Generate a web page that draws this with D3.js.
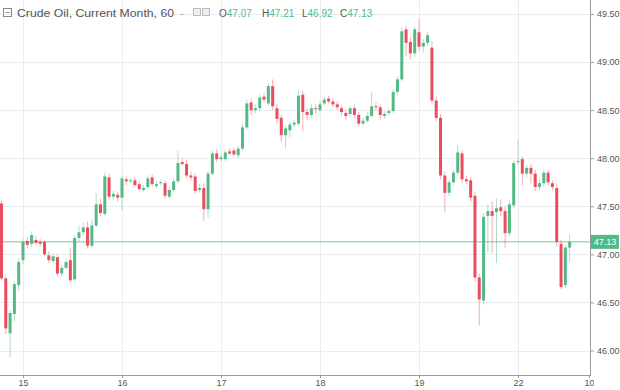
<!DOCTYPE html>
<html><head><meta charset="utf-8">
<script src="https://cdn.jsdelivr.net/npm/d3@7/dist/d3.min.js"></script>
<style>body{margin:0;background:#fff}svg{display:block}</style>
</head><body><svg id="c" width="620" height="390"></svg>
<script>
// hourly candles: [open, high, low, close]
const candles = [
[47.53,47.56,46.73,46.75],[46.75,46.78,46.17,46.23],[46.18,46.42,45.93,46.39],[46.38,46.72,46.30,46.69],
[46.68,46.96,46.62,46.92],[46.94,47.16,46.90,47.13],[47.14,47.18,47.06,47.10],[47.11,47.24,47.08,47.20],
[47.15,47.19,47.10,47.12],[47.13,47.16,47.08,47.11],[47.13,47.15,46.98,47.00],[46.99,47.03,46.91,46.94],
[46.93,47.01,46.91,46.98],[46.97,47.00,46.77,46.80],[46.80,46.89,46.77,46.86],[46.86,46.95,46.84,46.92],
[46.94,47.07,46.71,46.73],[46.74,47.20,46.72,47.17],[47.17,47.30,47.14,47.23],[47.23,47.33,47.20,47.28],
[47.28,47.34,47.06,47.09],[47.09,47.36,47.07,47.30],[47.30,47.64,47.28,47.52],[47.52,47.58,47.40,47.43],
[47.42,47.85,47.40,47.81],[47.80,47.84,47.57,47.60],[47.60,47.66,47.57,47.63],[47.62,47.65,47.55,47.59],
[47.59,47.82,47.46,47.79],[47.78,47.81,47.72,47.76],[47.76,47.79,47.74,47.77],[47.77,47.80,47.70,47.72],
[47.73,47.76,47.66,47.68],[47.67,47.72,47.65,47.69],[47.70,47.82,47.68,47.79],[47.80,47.83,47.71,47.73],
[47.71,47.76,47.69,47.73],[47.74,47.78,47.72,47.75],[47.74,47.77,47.58,47.61],[47.60,47.70,47.58,47.67],
[47.67,47.79,47.65,47.76],[47.76,48.08,47.74,47.95],[47.96,48.00,47.92,47.94],[47.94,47.98,47.79,47.82],
[47.82,47.86,47.77,47.80],[47.81,47.84,47.63,47.66],[47.67,47.73,47.64,47.69],[47.69,47.74,47.35,47.47],
[47.47,47.87,47.38,47.84],[47.84,48.08,47.82,48.05],[48.05,48.09,47.96,47.99],[47.99,48.04,47.97,48.01],
[47.99,48.09,47.97,48.06],[48.07,48.10,48.03,48.05],[48.08,48.11,48.02,48.04],[48.03,48.13,48.00,48.10],
[48.10,48.36,48.08,48.32],[48.32,48.61,48.30,48.57],[48.58,48.62,48.45,48.50],[48.50,48.56,48.47,48.52],
[48.52,48.66,48.49,48.63],[48.64,48.68,48.58,48.61],[48.57,48.78,48.55,48.75],[48.75,48.82,48.50,48.54],
[48.52,48.56,48.36,48.41],[48.42,48.45,48.17,48.24],[48.24,48.34,48.10,48.31],[48.29,48.38,48.22,48.35],
[48.35,48.40,48.32,48.37],[48.36,48.71,48.34,48.65],[48.66,48.70,48.28,48.48],[48.48,48.52,48.40,48.45],
[48.45,48.56,48.42,48.52],[48.52,48.56,48.47,48.51],[48.50,48.60,48.48,48.56],[48.57,48.64,48.55,48.61],
[48.62,48.65,48.57,48.59],[48.59,48.62,48.53,48.56],[48.56,48.59,48.50,48.53],[48.52,48.55,48.44,48.48],
[48.47,48.50,48.40,48.44],[48.46,48.55,48.43,48.52],[48.52,48.55,48.42,48.45],[48.45,48.48,48.33,48.36],
[48.36,48.42,48.34,48.39],[48.39,48.48,48.37,48.44],[48.44,48.69,48.42,48.54],[48.54,48.58,48.50,48.53],
[48.53,48.56,48.40,48.45],[48.44,48.49,48.41,48.46],[48.47,48.52,48.44,48.49],[48.49,48.72,48.47,48.69],
[48.69,48.85,48.66,48.82],[48.82,49.36,48.80,49.32],[49.34,49.38,49.06,49.20],[49.21,49.25,49.03,49.09],
[49.09,49.37,49.05,49.34],[49.31,49.45,49.12,49.16],[49.16,49.24,49.10,49.20],[49.20,49.31,49.17,49.28],
[49.15,49.22,48.57,48.60],[48.60,48.64,48.38,48.42],[48.42,48.46,47.78,47.82],[47.82,47.86,47.44,47.64],
[47.64,47.78,47.60,47.75],[47.75,47.88,47.72,47.85],[47.85,48.14,47.82,48.06],[48.05,48.08,47.74,47.78],
[47.78,47.82,47.73,47.76],[47.77,47.80,47.55,47.59],[47.61,47.65,46.72,46.76],[46.76,46.80,46.26,46.53],
[46.52,47.43,46.48,47.39],[47.40,47.52,47.02,47.45],[47.45,47.55,47.01,47.40],[47.44,47.58,46.91,47.48],
[47.49,47.57,47.40,47.45],[47.45,47.50,47.07,47.22],[47.22,47.56,47.19,47.52],[47.51,47.98,47.48,47.95],
[47.96,48.19,47.93,47.97],[47.99,48.02,47.72,47.84],[47.84,47.93,47.80,47.90],[47.90,47.94,47.74,47.84],
[47.84,47.88,47.66,47.70],[47.70,47.78,47.67,47.74],[47.74,47.88,47.71,47.85],[47.85,47.88,47.72,47.75],
[47.74,47.77,47.67,47.70],[47.69,47.73,47.08,47.13],[47.11,47.15,46.64,46.66],[46.68,47.10,46.65,47.07],
[47.07,47.21,46.92,47.13]
];
const priceTicks = [46.0,46.5,47.0,47.5,48.0,48.5,49.0,49.5];
const timeTickIndex = [5,28,51,74,97,120,136.5];
const timeTickLabels = ["15","16","17","18","19","22","10"];
const lastPrice = 47.13;
const titleText = "Crude Oil, Current Month, 60";
const ohlcLetters = ["O","H","L","C"];
const ohlcValues = [47.07,47.21,46.92,47.13];

const UP = "#53b987", DOWN = "#eb4d5c";
const W = 620, H = 390, plotR = 590, plotB = 375;
const svg = d3.select("#c");
const font = "'Trebuchet MS','Liberation Sans',Arial,sans-serif";

const x = d3.scaleLinear().domain([5,120]).range([23,518]);
const y = d3.scaleLinear().domain([46,49.5]).range([350.5,14]);

const defs = svg.append("defs");
defs.append("clipPath").attr("id","plot")
  .append("rect").attr("x",0).attr("y",0).attr("width",plotR).attr("height",plotB);
defs.append("clipPath").attr("id","bot")
  .append("rect").attr("x",0).attr("y",0).attr("width",594).attr("height",H-plotB);

// grid
const grid = svg.append("g").attr("clip-path","url(#plot)");
grid.selectAll("line.h").data(priceTicks).join("line")
  .attr("x1",0).attr("x2",plotR).attr("y1",d=>Math.round(y(d))+0.5).attr("y2",d=>Math.round(y(d))+0.5)
  .attr("stroke","#e9edf2").attr("stroke-width",1);
grid.selectAll("line.v").data(timeTickIndex.slice(0,6)).join("line")
  .attr("y1",0).attr("y2",plotB).attr("x1",d=>Math.round(x(d))+0.5).attr("x2",d=>Math.round(x(d))+0.5)
  .attr("stroke","#e9edf2").attr("stroke-width",1);

// last price line
grid.append("line").attr("x1",0).attr("x2",plotR)
  .attr("y1",y(lastPrice)).attr("y2",y(lastPrice))
  .attr("stroke",UP).attr("stroke-width",1).attr("opacity",0.8);

// candles
const cg = svg.append("g").attr("clip-path","url(#plot)");
const c = cg.selectAll("g.c").data(candles).join("g");
c.append("line")
  .attr("x1",(d,i)=>x(i)).attr("x2",(d,i)=>x(i))
  .attr("y1",d=>y(d[1])).attr("y2",d=>y(d[2]))
  .attr("stroke",d=>d[3]>=d[0]?UP:DOWN).attr("stroke-width",1).attr("opacity",0.45);
c.append("rect")
  .attr("x",(d,i)=>x(i)-1.5).attr("width",3)
  .attr("y",d=>y(Math.max(d[0],d[3])))
  .attr("height",d=>Math.max(1,Math.abs(y(d[0])-y(d[3]))))
  .attr("fill",d=>d[3]>=d[0]?UP:DOWN);

// right price axis
const ya = svg.append("g").attr("transform",`translate(${plotR},0)`)
  .call(d3.axisRight(y).tickValues(priceTicks).tickFormat(d3.format(".2f")).tickSize(4).tickPadding(3));
ya.select(".domain").attr("stroke","#9b9b9b").attr("d",`M0.5,0V${plotB}`);
ya.selectAll(".tick line").attr("stroke","#9b9b9b");
ya.selectAll("text").attr("fill","#555").style("font-family",font).style("font-size","9px");

// bottom time axis
const xa = svg.append("g").attr("transform",`translate(0,${plotB})`).attr("clip-path","url(#bot)");
xa.call(d3.axisBottom(x).tickValues(timeTickIndex).tickFormat((d,i)=>timeTickLabels[i]).tickSize(3).tickPadding(2));
xa.select(".domain").attr("stroke","#9b9b9b").attr("d",`M0,0.5H${plotR+1}`);
xa.selectAll(".tick line").attr("stroke","#9b9b9b");
xa.selectAll("text").attr("fill","#555").style("font-family",font).style("font-size","9px");

// last price tag
svg.append("rect").attr("x",plotR+1).attr("y",y(lastPrice)-7).attr("width",28).attr("height",14).attr("fill",UP);
svg.append("text").attr("x",plotR+15).attr("y",y(lastPrice)+3.2).attr("text-anchor","middle")
  .attr("fill","#fff").style("font-family",font).style("font-size","9px").text(d3.format(".2f")(lastPrice));

// header
const hd = svg.append("g").style("font-family",font);
hd.append("rect").attr("x",3.5).attr("y",8.5).attr("width",8).attr("height",8).attr("fill","none").attr("stroke","#888");
hd.append("line").attr("x1",5.5).attr("x2",9.5).attr("y1",12.5).attr("y2",12.5).attr("stroke","#888");
hd.append("text").attr("x",17).attr("y",17).attr("fill","#555").style("font-size","11.5px")
  .attr("textLength",157).attr("lengthAdjust","spacingAndGlyphs").text(titleText);
hd.append("text").attr("x",180).attr("y",17).attr("fill","#999").style("font-size","11px").text("-");
[193,202].forEach(px=>{
  hd.append("rect").attr("x",px+0.5).attr("y",8.5).attr("width",7).attr("height",7).attr("fill","#eee").attr("stroke","#bbb");
});
const ohlcX = [219,262,302,340];
ohlcLetters.forEach((L,i)=>{
  const t = hd.append("text").attr("x",ohlcX[i]).attr("y",17).style("font-size","10px");
  t.append("tspan").attr("fill","#555").text(L);
  t.append("tspan").attr("fill",UP).text(d3.format(".2f")(ohlcValues[i]));
});
</script></body></html>
